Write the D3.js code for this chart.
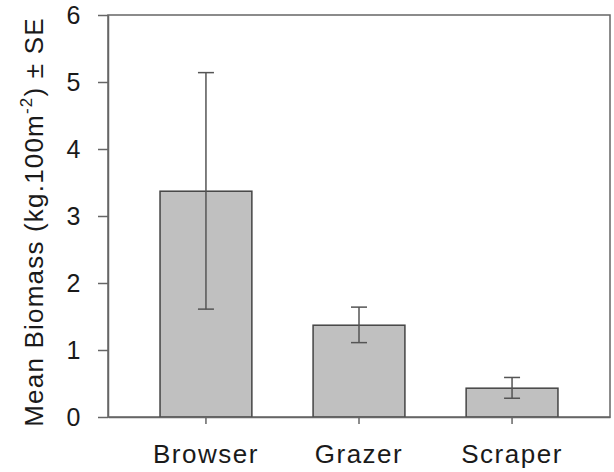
<!DOCTYPE html>
<html>
<head>
<meta charset="utf-8">
<script src="https://cdn.jsdelivr.net/npm/d3@7"></script>
<style>
  body { margin: 0; background: #fff; }
  svg text { font-family: "Liberation Sans", Arial, sans-serif; fill: #1a1a1a; }
</style>
</head>
<body>
<svg id="chart" width="614" height="472"></svg>
<script>
// values
const groups = ['Browser', 'Grazer', 'Scraper']
const means = [3.37, 1.37, 0.43]
const seUpper = [5.14, 1.64, 0.59]
const seLower = [1.61, 1.11, 0.28]
const yTicks = [0, 1, 2, 3, 4, 5, 6]

const margin = { top: 15, right: 4, bottom: 55, left: 108 }
const width = 614 - margin.left - margin.right
const height = 472 - margin.top - margin.bottom

const svg = d3.select('#chart')
const g = svg.append('g').attr('transform', `translate(${margin.left},${margin.top})`)

const x = d3.scaleBand().domain(groups).range([0, width]).paddingInner(0.4).paddingOuter(0.34)
const y = d3.scaleLinear().domain([0, 6]).range([height, 0])

// frame
g.append('rect')
  .attr('x', 0).attr('y', 0)
  .attr('width', width).attr('height', height)
  .attr('fill', 'none').attr('stroke', '#666').attr('stroke-width', 1.5)

// bars
g.selectAll('.bar')
  .data(groups)
  .enter()
  .append('rect')
  .attr('class', 'bar')
  .attr('x', d => x(d))
  .attr('y', (d, i) => y(means[i]))
  .attr('width', x.bandwidth())
  .attr('height', (d, i) => y(0) - y(means[i]))
  .attr('fill', '#c0c0c0')
  .attr('stroke', '#444')
  .attr('stroke-width', 1.5)

// error bars
const cap = 8
const eb = g.selectAll('.err').data(groups).enter().append('g').attr('class', 'err')
  .attr('stroke', '#555').attr('stroke-width', 1.5)
eb.append('line')
  .attr('x1', d => x(d) + x.bandwidth() / 2).attr('x2', d => x(d) + x.bandwidth() / 2)
  .attr('y1', (d, i) => y(seUpper[i])).attr('y2', (d, i) => y(seLower[i]))
eb.append('line')
  .attr('x1', d => x(d) + x.bandwidth() / 2 - cap).attr('x2', d => x(d) + x.bandwidth() / 2 + cap)
  .attr('y1', (d, i) => y(seUpper[i])).attr('y2', (d, i) => y(seUpper[i]))
eb.append('line')
  .attr('x1', d => x(d) + x.bandwidth() / 2 - cap).attr('x2', d => x(d) + x.bandwidth() / 2 + cap)
  .attr('y1', (d, i) => y(seLower[i])).attr('y2', (d, i) => y(seLower[i]))

// axes
const yAxis = g.append('g')
  .call(d3.axisLeft(y).tickValues(yTicks).tickFormat(d3.format('d')).tickSize(10).tickSizeOuter(0).tickPadding(16))
const xAxis = g.append('g')
  .attr('transform', `translate(0,${height})`)
  .call(d3.axisBottom(x).tickSize(7).tickSizeOuter(0).tickPadding(21))

;[yAxis, xAxis].forEach(a => {
  a.select('.domain').attr('stroke', '#666').attr('stroke-width', 1.5)
  a.selectAll('.tick line').attr('stroke', '#666').attr('stroke-width', 1.5)
  a.selectAll('.tick text')
    .style('font-family', '"Liberation Sans", Arial, sans-serif')
    .style('font-size', '25px')
    .style('letter-spacing', '1.5px')
    .attr('fill', '#1a1a1a')
})
xAxis.selectAll('.tick text').style('font-size', '26px')

// y label
const ylab = svg.append('text')
  .attr('transform', 'translate(43,222) rotate(-90)')
  .attr('text-anchor', 'middle')
  .style('font-size', '26px')
  .style('letter-spacing', '1.2px')
ylab.append('tspan').text('Mean Biomass (kg.100m')
ylab.append('tspan').attr('dy', -11).style('font-size', '17px').text('-2')
ylab.append('tspan').attr('dy', 11).text(') ± SE')
</script>
</body>
</html>
